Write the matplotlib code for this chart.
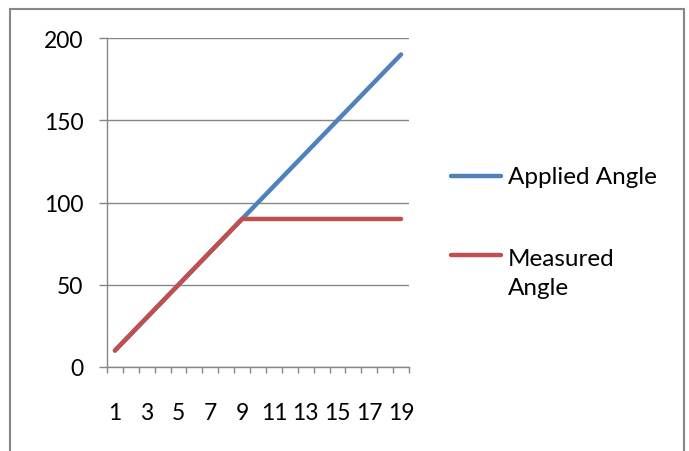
import numpy as np
import matplotlib.pyplot as plt
from matplotlib.lines import Line2D
from matplotlib.patches import Rectangle

# données
steps = list(range(1, 20))
applied_angle = [10, 20, 30, 40, 50, 60, 70, 80, 90, 100, 110, 120, 130, 140, 150, 160, 170, 180, 190]
measured_angle = [10, 20, 30, 40, 50, 60, 70, 80, 90, 90, 90, 90, 90, 90, 90, 90, 90, 90, 90]
series_names = ['Applied Angle', 'Measured\nAngle']
series_colors = ['#4F81BD', '#C0504D']

plt.rcParams['font.family'] = ['Lato', 'DejaVu Sans']
grey = '#868686'
fs = 16.5
fs_leg = 17.5

fig = plt.figure(figsize=(6.89, 4.52), dpi=100)
ax = fig.add_axes([107/689, 1 - 368/452, 302/689, 329/452])

for vals, col in zip([applied_angle, measured_angle], series_colors):
    ax.plot(steps, vals, color=col, lw=3.2, solid_capstyle='round', zorder=3)

ax.set_xlim(0.5, 19.5)
ax.set_ylim(0, 200)
ax.set_yticks([0, 50, 100, 150, 200])
ax.set_xticks(steps[::2])
ax.set_xticks(np.arange(0.5, 20, 1), minor=True)
ax.grid(axis='y', color=grey, lw=1)
ax.set_axisbelow(True)

for s in ['top', 'right']:
    ax.spines[s].set_visible(False)
for s in ['left', 'bottom']:
    ax.spines[s].set_color(grey)
    ax.spines[s].set_linewidth(1)

ax.tick_params(axis='y', length=6, color=grey, width=1, pad=11, labelsize=fs)
ax.tick_params(axis='x', which='major', length=0, pad=25, labelsize=fs)
ax.tick_params(axis='x', which='minor', length=4, color=grey, width=1)

# légende manuelle façon Excel
leg_y = [177, 256]
for name, col, yy in zip(series_names, series_colors, leg_y):
    fy = 1 - yy / 452
    fig.add_artist(Line2D([451/689, 501/689], [fy, fy], color=col, lw=3.2,
                          solid_capstyle='round', transform=fig.transFigure))
    if '\n' in name:
        # texte sur deux lignes, première ligne alignée sur le trait
        fig.text(508/689, 1 - 274/452, name, fontsize=fs_leg, va='center', linespacing=1.5)
    else:
        fig.text(508/689, fy, name, fontsize=fs_leg, va='center')

# cadre
fig.add_artist(Rectangle((10/689, -0.02), 674/689, 1.02 - 10/452, fill=False,
                         edgecolor='#878787', lw=1.5, transform=fig.transFigure))

fig.savefig('out.png', dpi=100)
